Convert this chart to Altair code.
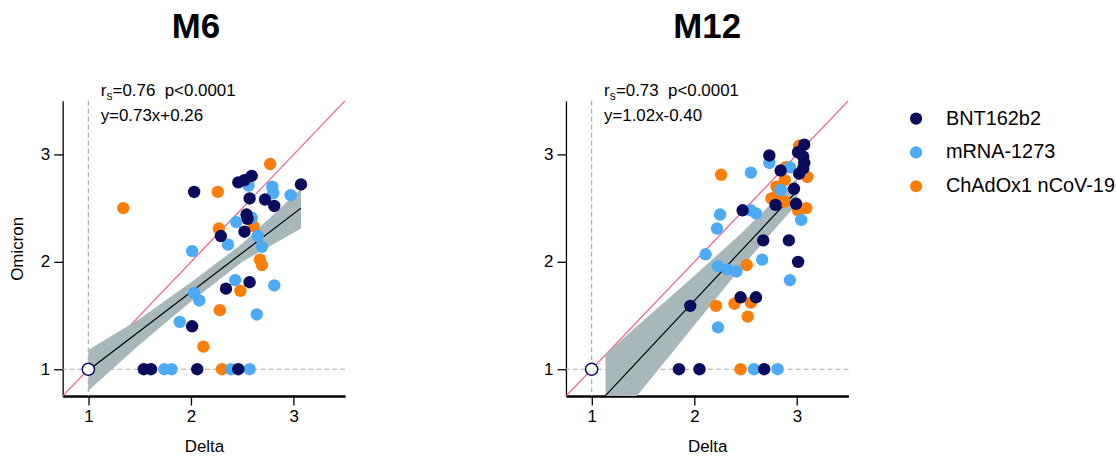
import altair as alt
import pandas as pd

FONT = "Liberation Sans"
VACCINES = ["BNT162b2", "mRNA-1273", "ChAdOx1 nCoV-19"]
COLORS = ["#0b0b5e", "#4daaf4", "#fb7d0a"]

# ---- M6 panel data ----
m6_bnt_x = [2.03, 2.46, 2.52, 2.59, 3.07, 2.57, 2.72, 2.81, 2.54, 2.55, 2.52, 2.29, 2.57, 2.34, 2.01, 1.54, 1.61, 2.06, 2.46]
m6_bnt_y = [2.65, 2.74, 2.76, 2.80, 2.72, 2.59, 2.58, 2.52, 2.44, 2.40, 2.28, 2.24, 1.81, 1.75, 1.40, 1, 1, 1, 1]
m6_mrna_x = [2.56, 2.79, 2.80, 2.97, 2.59, 2.44, 2.65, 2.69, 2.36, 2.01, 2.43, 2.81, 2.03, 2.08, 2.64, 1.89, 1.74, 1.81, 2.39, 2.57]
m6_mrna_y = [2.71, 2.70, 2.64, 2.62, 2.41, 2.37, 2.24, 2.14, 2.16, 2.10, 1.83, 1.78, 1.71, 1.64, 1.51, 1.44, 1, 1, 1, 1]
m6_chad_x = [1.34, 2.26, 2.77, 2.61, 2.27, 2.67, 2.69, 2.48, 2.28, 2.12, 2.30]
m6_chad_y = [2.50, 2.65, 2.91, 2.33, 2.31, 2.02, 1.97, 1.73, 1.55, 1.21, 1]
m6_band_x = [1.0, 1.5, 2.0, 2.5, 3.07]
m6_band_lo = [0.80, 1.23, 1.63, 2.00, 2.31]
m6_band_hi = [1.18, 1.47, 1.81, 2.17, 2.68]
m6_fit_x = [1.0, 3.07]
m6_fit_y = [0.99, 2.50]
m6_stats = ["=0.76\u00a0 p<0.0001", "y=0.73x+0.26"]

# ---- M12 panel data ----
m12_bnt_x = [2.73, 2.84, 3.07, 3.01, 3.06, 3.07, 3.06, 3.02, 2.97, 2.79, 2.99, 2.47, 2.67, 2.92, 3.01, 2.45, 2.60, 1.96, 1.85, 2.05, 2.68]
m12_bnt_y = [2.99, 2.85, 3.09, 3.02, 2.98, 2.92, 2.87, 2.82, 2.68, 2.53, 2.54, 2.48, 2.20, 2.20, 2.00, 1.67, 1.67, 1.59, 1, 1, 1]
m12_mrna_x = [2.55, 2.73, 2.93, 2.84, 3.04, 2.55, 2.60, 2.25, 2.22, 2.11, 2.66, 2.23, 2.32, 2.41, 2.93, 2.23, 2.58, 2.81]
m12_mrna_y = [2.83, 2.92, 2.88, 2.67, 2.39, 2.48, 2.45, 2.44, 2.31, 2.07, 2.02, 1.96, 1.93, 1.91, 1.83, 1.39, 1, 1]
m12_chad_x = [2.26, 2.89, 3.02, 3.10, 2.88, 2.80, 2.81, 2.75, 2.88, 3.09, 3.01, 2.51, 2.21, 2.39, 2.55, 2.52, 2.45]
m12_chad_y = [2.81, 2.88, 3.08, 2.79, 2.76, 2.70, 2.62, 2.59, 2.56, 2.50, 2.48, 1.97, 1.59, 1.61, 1.62, 1.49, 1]
m12_band_x = [1.135, 1.44, 2.0, 2.45, 3.0]
m12_band_lo = [0.38, 0.75, 1.41, 1.94, 2.54]
m12_band_hi = [1.14, 1.40, 1.87, 2.26, 2.78]
m12_fit_x = [1.13, 3.0]
m12_fit_y = [0.75, 2.66]
m12_stats = ["=0.73\u00a0 p<0.0001", "y=1.02x-0.40"]

DOMAIN = [0.75, 3.5]
TICKS = [1, 2, 3]
ref_x = [0.75, 3.5]


def panel(title, bx, by, mx, my, cx, cy, band_x, lo, hi, fx, fy, stats, show_ytitle, dx_title):
    pts = pd.concat([
        pd.DataFrame({"Delta": cx, "Omicron": cy, "Vaccine": VACCINES[2]}),
        pd.DataFrame({"Delta": mx, "Omicron": my, "Vaccine": VACCINES[1]}),
        pd.DataFrame({"Delta": bx, "Omicron": by, "Vaccine": VACCINES[0]}),
    ], ignore_index=True)
    xs = alt.Scale(domain=DOMAIN, nice=False, zero=False)
    ys = alt.Scale(domain=DOMAIN, nice=False, zero=False)
    xax = alt.Axis(values=TICKS, title="Delta", format="d", domainWidth=2.5)
    yax = alt.Axis(values=TICKS, title="Omicron" if show_ytitle else None, format="d", domainWidth=1.3)

    def X(f):
        return alt.X(f, scale=xs, axis=xax)

    def Y(f):
        return alt.Y(f, scale=ys, axis=yax)

    vrule = alt.Chart(pd.DataFrame({"v": [1]})).mark_rule(
        color="#aaaaaa", strokeDash=[5, 3], strokeWidth=1.2
    ).encode(x=X("v:Q"))
    hrule = alt.Chart(pd.DataFrame({"v": [1]})).mark_rule(
        color="#aaaaaa", strokeDash=[5, 3], strokeWidth=1.2
    ).encode(y=Y("v:Q"))
    ident = alt.Chart(pd.DataFrame({"a": ref_x, "b": ref_x})).mark_line(
        color="#f05a8c", strokeWidth=1.2, clip=True
    ).encode(x=X("a:Q"), y=Y("b:Q"))
    band = alt.Chart(pd.DataFrame({"x": band_x, "lo": lo, "hi": hi})).mark_area(
        color="#a8b7ba", opacity=1, clip=True
    ).encode(x=X("x:Q"), y=Y("lo:Q"), y2="hi:Q")
    fit = alt.Chart(pd.DataFrame({"x": fx, "y": fy})).mark_line(
        color="black", strokeWidth=1.2, clip=True
    ).encode(x=X("x:Q"), y=Y("y:Q"))
    dots = alt.Chart(pts).mark_circle(size=155, opacity=1).encode(
        x=X("Delta:Q"),
        y=Y("Omicron:Q"),
        color=alt.Color(
            "Vaccine:N",
            scale=alt.Scale(domain=VACCINES, range=COLORS),
            legend=alt.Legend(
                title=None, orient="none", legendX=848, legendY=8,
                labelFontSize=20, labelFont=FONT, labelLimit=400, symbolSize=150, symbolType="circle",
                rowPadding=14, labelOffset=20, symbolStrokeWidth=0,
            ),
        ),
    )
    origin = alt.Chart(pd.DataFrame({"x": [1], "y": [1]})).mark_point(
        shape="circle", filled=True, fill="white", stroke="#0b0b5e", strokeWidth=1.5, size=150, opacity=1
    ).encode(x=X("x:Q"), y=Y("y:Q"))

    txt = dict(align="left", baseline="alphabetic", font=FONT, color="black")
    r_txt = alt.Chart(pd.DataFrame({"x": [1.12], "y": [3.54], "t": ["r"]})).mark_text(
        fontSize=17, **txt
    ).encode(x=X("x:Q"), y=Y("y:Q"), text="t:N")
    s_txt = alt.Chart(pd.DataFrame({"x": [1.12], "y": [3.54], "t": ["s"]})).mark_text(
        fontSize=12, dx=5.8, dy=4, **txt
    ).encode(x=X("x:Q"), y=Y("y:Q"), text="t:N")
    stat1 = alt.Chart(pd.DataFrame({"x": [1.12], "y": [3.54], "t": [stats[0]]})).mark_text(
        fontSize=17, dx=12, **txt
    ).encode(x=X("x:Q"), y=Y("y:Q"), text="t:N")
    stat2 = alt.Chart(pd.DataFrame({"x": [1.12], "y": [3.31], "t": [stats[1]]})).mark_text(
        fontSize=17, **txt
    ).encode(x=X("x:Q"), y=Y("y:Q"), text="t:N")

    return alt.layer(vrule, hrule, ident, band, fit, dots, origin, r_txt, s_txt, stat1, stat2).properties(
        width=284, height=297,
        title=alt.TitleParams(title, fontSize=35, font=FONT, fontWeight="bold", anchor="middle",
                              frame="group", dx=dx_title, offset=38, color="black"),
    )


left = panel("M6", m6_bnt_x, m6_bnt_y, m6_mrna_x, m6_mrna_y, m6_chad_x, m6_chad_y,
             m6_band_x, m6_band_lo, m6_band_hi, m6_fit_x, m6_fit_y, m6_stats, True, -8)
right = panel("M12", m12_bnt_x, m12_bnt_y, m12_mrna_x, m12_mrna_y, m12_chad_x, m12_chad_y,
              m12_band_x, m12_band_lo, m12_band_hi, m12_fit_x, m12_fit_y, m12_stats, False, 0)

chart = alt.hconcat(left, right, spacing=198).configure_view(stroke=None).configure_axis(
    grid=False, labelFont=FONT, titleFont=FONT, labelFontSize=17, titleFontSize=17,
    titleFontWeight="normal", labelColor="black", titleColor="black",
    domainColor="black", tickColor="black", tickSize=9, tickWidth=1.3,
    labelPadding=4, titlePadding=14,
).properties(padding={"left": 8, "top": 8, "right": 0, "bottom": 0})

chart.save("out.html", embed_options={"renderer": "svg", "actions": False})
